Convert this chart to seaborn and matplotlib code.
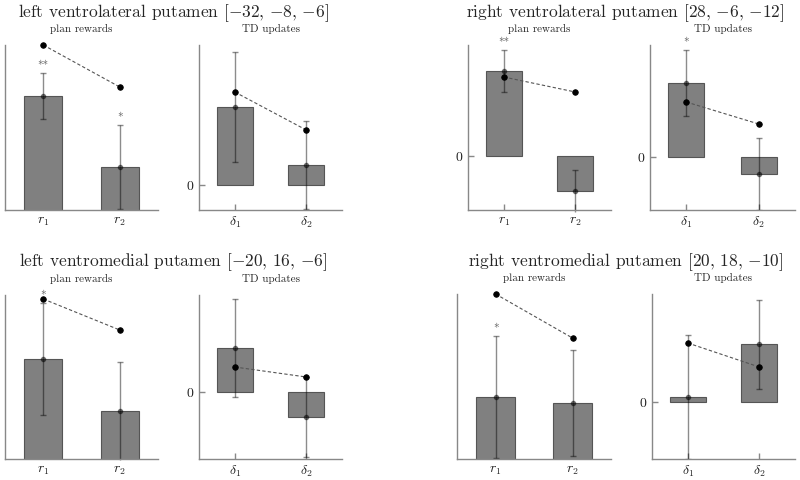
'''Bar plots of ROI betas for plan rewards and TD updates'''

import matplotlib
matplotlib.use('Agg')
import matplotlib.pyplot as plt
import seaborn as sns
import pandas as pd

sns.set_style('white')
plt.rcParams['font.family'] = ['cmr10', 'DejaVu Serif']
plt.rcParams['mathtext.fontset'] = 'cm'
plt.rcParams['axes.formatter.use_mathtext'] = True

#data
titles = ['left ventrolateral putamen $[{-32},\\,{-8},\\,{-6}]$',
          'right ventrolateral putamen $[28,\\,{-6},\\,{-12}]$',
          'left ventromedial putamen $[{-20},\\,16,\\,{-6}]$',
          'right ventromedial putamen $[20,\\,18,\\,{-10}]$']

plan_labels = ['$r_1$', '$r_2$']
td_labels = ['$\\delta_1$', '$\\delta_2$']

plan_mean = [[1.34, 0.63], [0.85, -0.35], [1.20, 0.68], [0.82, 0.76]]
plan_sem = [[0.23, 0.42], [0.21, 0.21], [0.56, 0.49], [0.61, 0.53]]
plan_model = [[1.85, 1.43], [0.79, 0.64], [1.80, 1.49], [1.85, 1.41]]
plan_stars = [['**', '*'], ['**', ''], ['*', ''], ['*', '']]
plan_ylim = [(0.2, 1.85), (-0.54, 1.11), (0.2, 1.84), (0.2, 1.85)]

td_mean = [[0.78, 0.20], [0.74, -0.17], [0.44, -0.25], [0.05, 0.58]]
td_sem = [[0.55, 0.44], [0.33, 0.36], [0.49, 0.40], [0.62, 0.445]]
td_model = [[0.93, 0.55], [0.55, 0.33], [0.25, 0.15], [0.59, 0.35]]
td_stars = [['', ''], ['*', ''], ['', ''], ['', '']]
td_ylim = [(-0.25, 1.40), (-0.53, 1.12), (-0.67, 0.97), (-0.57, 1.08)]

#layout in pixels: left, right, top, bottom
W, H = 800, 480
plan_boxes = [(5, 158, 45, 210), (468, 611, 45, 210), (5, 158, 295, 459), (457, 611, 294, 459)]
td_boxes = [(199, 342, 45, 210), (650, 795, 45, 210), (199, 342, 295, 459), (652, 795, 294, 459)]
title_pos = [(173, 13), (625, 13), (173, 262), (626, 262)]


def make_ax(fig, box):
	l, r, t, b = box
	return fig.add_axes([l / W, 1 - b / H, (r - l) / W, (b - t) / H])


def draw_panel(ax, labels, mean, sem, model, stars, ylim, subtitle):
	df = pd.DataFrame({'cond': labels, 'mean': mean, 'model': model})
	sns.barplot(data=df, x='cond', y='mean', color='#808080', saturation=1,
				width=0.5, edgecolor='#555555', linewidth=0.8, errorbar=None, ax=ax)
	ax.errorbar(range(len(mean)), mean, yerr=sem, fmt='o', ms=3, color='black',
				alpha=0.45, elinewidth=1, capsize=2.5, capthick=1)
	n = len(ax.lines)
	sns.pointplot(data=df, x='cond', y='model', color='black', markers='o',
				  linestyle=(0, (3, 2)), markersize=4, linewidth=0.8,
				  errorbar=None, ax=ax)
	for ln in ax.lines[n:]:
		ln.set_clip_on(False)
		ln.set_color('#555555')
		ln.set_markerfacecolor('black')
		ln.set_markeredgecolor('black')
	for coll in ax.collections:
		coll.set_clip_on(False)

	for i, s in enumerate(stars):
		if s:
			ax.annotate(s, (i, mean[i] + sem[i]), xytext=(0, 6), textcoords='offset pixels',
						ha='center', va='center', fontsize=8, color='#555555',
						annotation_clip=False)

	ax.annotate(subtitle, (0.5, 1), xycoords='axes fraction', xytext=(0, 16),
				textcoords='offset pixels', ha='center', va='center', fontsize=8)

	ax.set_xlim(-0.5, 1.5)
	if ylim[0] < 0:
		ax.set_yticks([0])
	else:
		ax.set_yticks([])
	ax.set_ylim(ylim)
	ax.set_xlabel('')
	ax.set_ylabel('')
	sns.despine(ax=ax)
	for side in ['left', 'bottom']:
		ax.spines[side].set_color('#888888')
		ax.spines[side].set_linewidth(1)
	ax.tick_params(bottom=True, left=True, direction='in', length=4, width=1,
				   color='#888888', labelsize=10, labelcolor='#222222', pad=3)


fig = plt.figure(figsize=(W / 100, H / 100), dpi=100)

for k in range(4):
	ax1 = make_ax(fig, plan_boxes[k])
	draw_panel(ax1, plan_labels, plan_mean[k], plan_sem[k], plan_model[k],
			   plan_stars[k], plan_ylim[k], 'plan rewards')
	ax2 = make_ax(fig, td_boxes[k])
	draw_panel(ax2, td_labels, td_mean[k], td_sem[k], td_model[k],
			   td_stars[k], td_ylim[k], 'TD updates')
	x, y = title_pos[k]
	fig.text(x / W, 1 - y / H, titles[k], ha='center', va='center', fontsize=12.5)

plt.savefig('out.png', dpi=100)
